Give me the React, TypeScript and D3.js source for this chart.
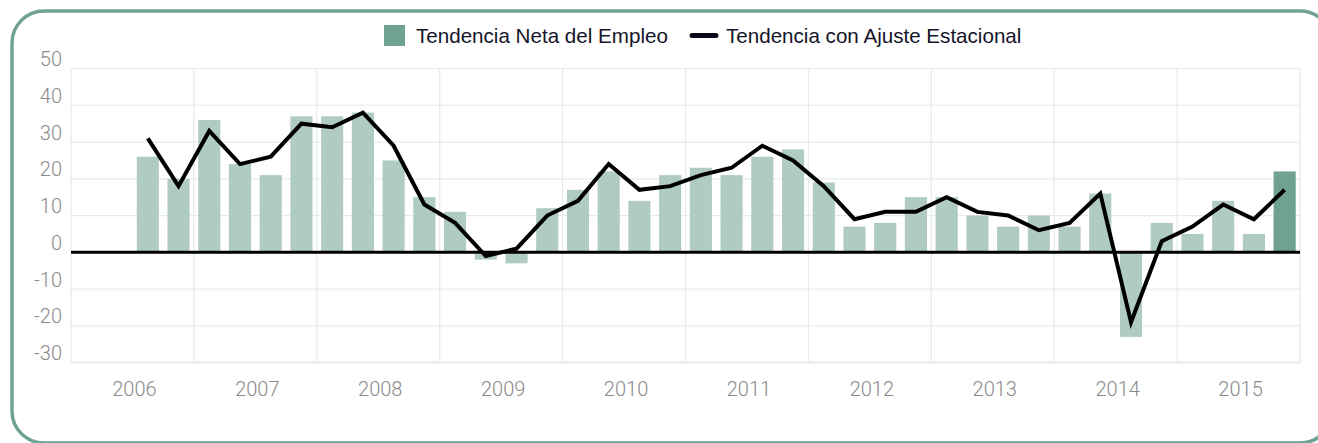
import React from "react";
import * as d3 from "d3";

const years = ["2006", "2007", "2008", "2009", "2010", "2011", "2012", "2013", "2014", "2015"];
const quarterNames = ["Q1", "Q2", "Q3", "Q4"];
const yTicks = [-30, -20, -10, 0, 10, 20, 30, 40, 50];

// data begins at 2006 Q3
const firstQuarterIndex = 2;
const netaEmpleo = [26, 20, 36, 24, 21, 37, 37, 38, 25, 15, 11, -2, -3, 12, 17, 22, 14, 21, 23, 21, 26, 28, 19, 7, 8, 15, 15, 10, 7, 10, 7, 16, -23, 8, 5, 14, 5, 22];
const ajusteEstacional = [31, 18, 33, 24, 26, 35, 34, 38, 29, 13, 8, -1, 1, 10, 14, 24, 17, 18, 21, 23, 29, 25, 18, 9, 11, 11, 15, 11, 10, 6, 8, 16, -19, 3, 7, 13, 9, 17];

const legendLabels = ["Tendencia Neta del Empleo", "Tendencia con Ajuste Estacional"];

const W = 1318;
const H = 443;
const plot = { left: 71, right: 1300, top: 68.5, bottom: 362.6 };

const BAR_LIGHT = "#b0cbc3";
const BAR_DARK = "#6fa293";
const FRAME = "#6fa293";
const GRID = "#e4ece9";
const AXIS_TEXT = "#8a8a8a";

export default function App() {
  const quarters: string[] = [];
  years.forEach((y) => quarterNames.forEach((q) => quarters.push(`${y}-${q}`)));

  const x = d3
    .scaleBand<string>()
    .domain(quarters)
    .range([plot.left, plot.right])
    .paddingInner(0.28)
    .paddingOuter(0.14);

  const xYear = d3.scaleBand<string>().domain(years).range([plot.left, plot.right]);

  const y = d3.scaleLinear().domain([-30, 50]).range([plot.bottom, plot.top]);

  const dataQuarters = quarters.slice(firstQuarterIndex, firstQuarterIndex + netaEmpleo.length);
  const bars = dataQuarters.map((q, i) => ({ q, v: netaEmpleo[i], last: i === netaEmpleo.length - 1 }));
  const linePts = dataQuarters.map((q, i) => ({ q, v: ajusteEstacional[i] }));

  const lineGen = d3
    .line<{ q: string; v: number }>()
    .x((d) => (x(d.q) as number) + x.bandwidth() / 2)
    .y((d) => y(d.v));

  const font = "'Liberation Sans', Arial, sans-serif";
  const axisFont = "Roboto, 'Liberation Sans', sans-serif";

  return (
    <svg
      width={W}
      height={H}
      style={{ position: "absolute", left: 0, top: 0, display: "block" }}
      fontFamily={font}
    >
      <rect x={0} y={0} width={W} height={H} fill="#fff" />
      <rect x={12} y={11} width={1320} height={432} rx={32} ry={32} fill="none" stroke={FRAME} strokeWidth={3.5} />

      {/* legend */}
      <g>
        <rect x={384} y={25} width={21} height={21} fill={BAR_DARK} />
        <text x={416} y={43} fontSize={20.6} fill="#14142a">{legendLabels[0]}</text>
        <line x1={692} x2={716} y1={35.5} y2={35.5} stroke="#0a0a1a" strokeWidth={5} strokeLinecap="round" />
        <text x={726} y={43} fontSize={20.6} fill="#14142a">{legendLabels[1]}</text>
      </g>

      {/* grid */}
      <g>
        {yTicks.map((t) => (
          <line key={"h" + t} x1={plot.left} x2={plot.right} y1={y(t)} y2={y(t)} stroke={GRID} strokeWidth={t === -30 ? 2 : 1.2} />
        ))}
        {years.map((yr) => (
          <line key={"v" + yr} x1={xYear(yr) as number} x2={xYear(yr) as number} y1={plot.top} y2={plot.bottom} stroke={GRID} strokeWidth={1.2} />
        ))}
        <line x1={plot.right} x2={plot.right} y1={plot.top} y2={plot.bottom} stroke={GRID} strokeWidth={1.5} />
      </g>

      {/* y labels */}
      <g fontFamily={axisFont}>
        {yTicks.map((t) => (
          <text key={"yl" + t} x={62} y={y(t) - 2.5} textAnchor="end" fontSize={20} fill={AXIS_TEXT} fontWeight={300}>
            {t}
          </text>
        ))}
      </g>

      {/* x labels */}
      <g fontFamily={axisFont}>
        {years.map((yr) => (
          <text
            key={"xl" + yr}
            x={(xYear(yr) as number) + xYear.bandwidth() / 2 + 2}
            y={396}
            textAnchor="middle"
            fontSize={20}
            fill={AXIS_TEXT}
            fontWeight={300}
          >
            {yr}
          </text>
        ))}
      </g>

      {/* bars */}
      <g>
        {bars.map((b) => (
          <rect
            key={b.q}
            x={x(b.q) as number}
            width={x.bandwidth()}
            y={y(Math.max(0, b.v))}
            height={Math.abs(y(b.v) - y(0))}
            fill={b.last ? BAR_DARK : BAR_LIGHT}
          />
        ))}
      </g>

      {/* zero line */}
      <line x1={plot.left} x2={plot.right} y1={y(0)} y2={y(0)} stroke="#000" strokeWidth={3} />

      {/* seasonal line */}
      <path d={lineGen(linePts) || ""} fill="none" stroke="#000" strokeWidth={4} strokeLinejoin="miter" />
    </svg>
  );
}
